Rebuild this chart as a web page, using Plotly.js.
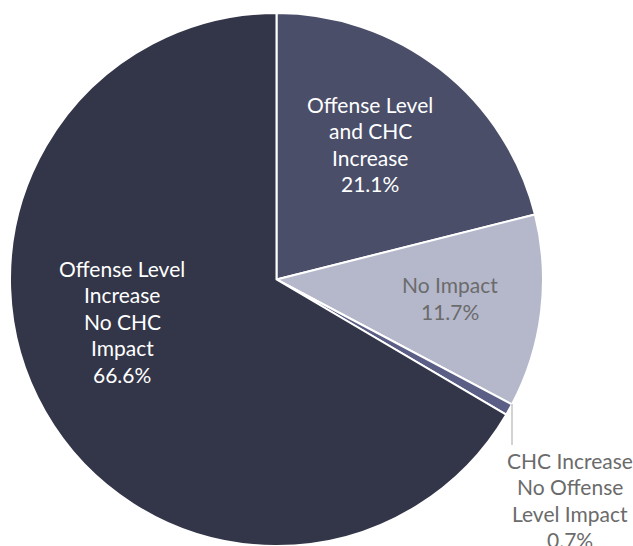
<!DOCTYPE html>
<html>
<head>
<meta charset="utf-8">
<script src="https://cdn.plot.ly/plotly-3.0.1.min.js"></script>
<style>
  html, body { margin: 0; padding: 0; background: #fff; }
  #chart { width: 633px; height: 546px; }
</style>
</head>
<body>
<div id="chart"></div>
<script>
// slices, clockwise from 12 o'clock
var labels = ['Offense Level<br>and CHC<br>Increase', 'No Impact', 'CHC Increase<br>No Offense<br>Level Impact', 'Offense Level<br>Increase<br>No CHC<br>Impact'];
var values = [21.1, 11.7, 0.7, 66.6];
var colors = ['#4a4e69', '#b5b8cb', '#5b5f86', '#333548'];
var textColors = ['#ffffff', '#6b6b6b', '#6b6b6b', '#ffffff'];

// label block centres in px (x, y of middle)
var labelPos = [[370, 144], [450, 298], [570, 500], [122, 321]];
var lineH = 26.5;

var W = 633, H = 546;
var annotations = [];
labels.forEach(function(lab, i) {
  var lines = lab.split('<br>').concat([values[i].toFixed(1) + '%']);
  var top = labelPos[i][1] - (lines.length - 1) * lineH / 2;
  lines.forEach(function(t, j) {
    annotations.push({
      x: labelPos[i][0] / W,
      y: 1 - (top + j * lineH) / H,
      xref: 'paper', yref: 'paper',
      text: t, showarrow: false,
      xanchor: 'center', yanchor: 'middle',
      font: {family: 'Lato, sans-serif', size: 21, color: textColors[i]}
    });
  });
});

var data = [{
  type: 'pie',
  labels: labels,
  values: values,
  sort: false,
  direction: 'clockwise',
  rotation: 0,
  textinfo: 'none',
  hoverinfo: 'label+value',
  marker: {colors: colors, line: {color: '#ffffff', width: 2}},
  domain: {x: [10 / W, 543 / W], y: [0, 533 / H]}
}];

var layout = {
  width: W,
  height: H,
  margin: {l: 0, r: 0, t: 0, b: 0},
  showlegend: false,
  paper_bgcolor: '#ffffff',
  annotations: annotations,
  shapes: [{
    type: 'line', xref: 'paper', yref: 'paper',
    x0: 512 / W, x1: 512 / W, y0: 1 - 404 / H, y1: 1 - 445 / H,
    line: {color: '#a6a6a6', width: 1}
  }]
};

Plotly.newPlot('chart', data, layout, {displayModeBar: false});
</script>
</body>
</html>
